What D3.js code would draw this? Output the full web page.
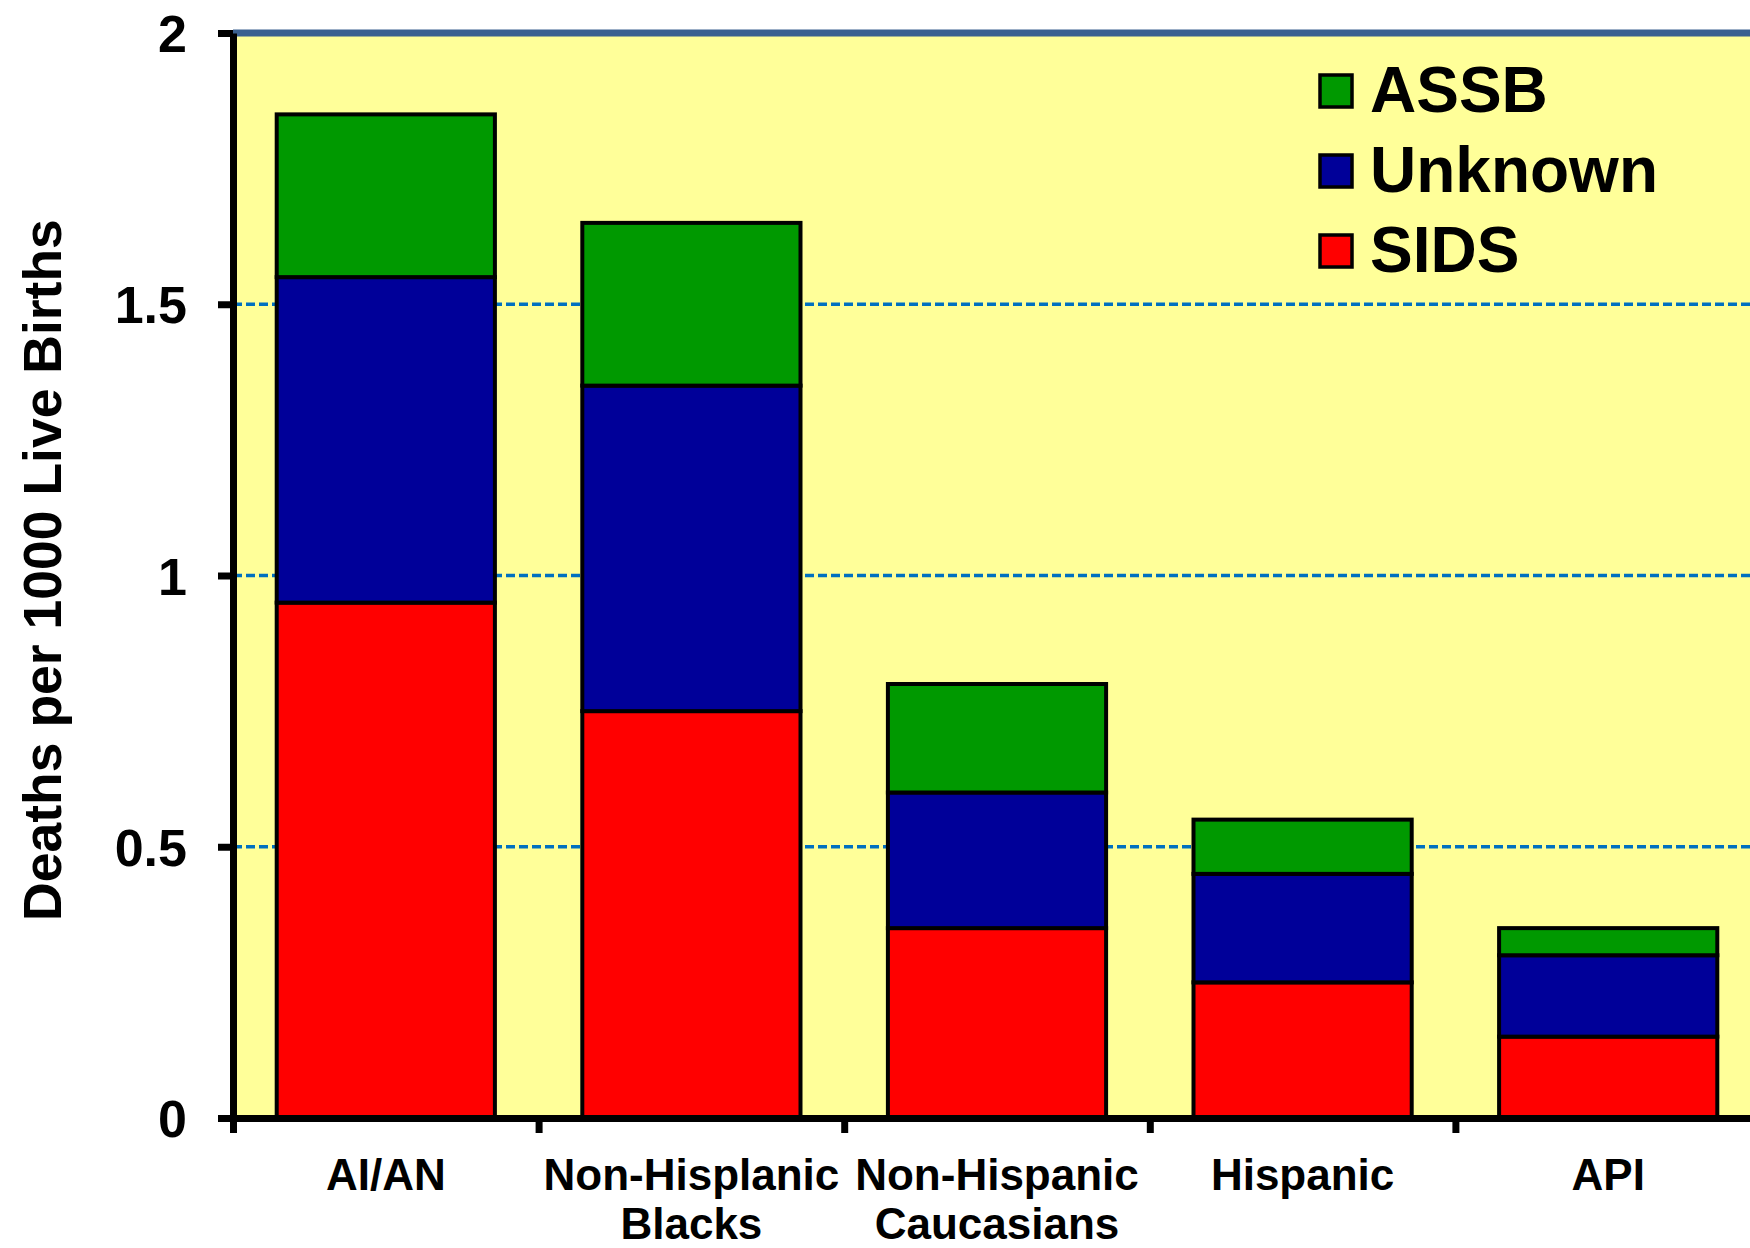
<!DOCTYPE html>
<html>
<head>
<meta charset="utf-8">
<script src="https://cdn.jsdelivr.net/npm/d3@7"></script>
<style>
  body { margin: 0; background: #fff; }
  svg { display: block; font-family: "Liberation Sans", Arial, sans-serif; font-weight: bold; }
</style>
</head>
<body>
<svg id="chart" width="1750" height="1248"></svg>
<script>
// Data
const categories = ['AI/AN', 'Non-Hisplanic Blacks', 'Non-Hispanic Caucasians', 'Hispanic', 'API'];
const labelLines = [['AI/AN'], ['Non-Hisplanic', 'Blacks'], ['Non-Hispanic', 'Caucasians'], ['Hispanic'], ['API']];
const sids = [0.95, 0.75, 0.35, 0.25, 0.15];
const unknown = [0.6, 0.6, 0.25, 0.2, 0.15];
const assb = [0.3, 0.3, 0.2, 0.1, 0.05];
const seriesNames = ['SIDS', 'Unknown', 'ASSB'];
const yTicks = [0, 0.5, 1, 1.5, 2];

const colors = { SIDS: '#ff0000', Unknown: '#000099', ASSB: '#009900' };

// Plot box
const plotLeft = 233, plotRight = 1761, plotTop = 33, plotBottom = 1118;

const svg = d3.select('#chart');

const rows = categories.map((c, i) => ({ cat: c, SIDS: sids[i], Unknown: unknown[i], ASSB: assb[i] }));
const stacked = d3.stack().keys(seriesNames)(rows);

const x = d3.scaleBand()
    .domain(categories)
    .range([plotLeft, plotRight])
    .paddingInner(0.286)
    .paddingOuter(0.143);

const y = d3.scaleLinear()
    .domain([0, 2])
    .range([plotBottom, plotTop]);

// Plot background
svg.append('rect')
    .attr('x', plotLeft)
    .attr('y', plotTop)
    .attr('width', plotRight - plotLeft)
    .attr('height', plotBottom - plotTop)
    .attr('fill', '#ffff99');

// Dashed gridlines
svg.append('g')
    .selectAll('line')
    .data(yTicks.filter(d => d > 0 && d < 2))
    .enter().append('line')
    .attr('x1', plotLeft)
    .attr('x2', plotRight)
    .attr('y1', d => y(d))
    .attr('y2', d => y(d))
    .attr('stroke', '#0070c0')
    .attr('stroke-width', 3.5)
    .attr('stroke-dasharray', '9,4');

// Top border of plot area
svg.append('line')
    .attr('x1', plotLeft)
    .attr('x2', plotRight)
    .attr('y1', y(2))
    .attr('y2', y(2))
    .attr('stroke', '#3b6190')
    .attr('stroke-width', 7);

// Stacked bars
svg.append('g')
  .selectAll('g')
  .data(stacked)
  .enter().append('g')
    .attr('fill', d => colors[d.key])
  .selectAll('rect')
  .data(d => d)
  .enter().append('rect')
    .attr('x', d => x(d.data.cat))
    .attr('y', d => y(d[1]))
    .attr('width', x.bandwidth())
    .attr('height', d => y(d[0]) - y(d[1]))
    .attr('stroke', '#000')
    .attr('stroke-width', 4);

// Y axis
const yAxis = svg.append('g')
    .attr('transform', `translate(${plotLeft},0)`)
    .call(d3.axisLeft(y).tickValues(yTicks).tickSize(15).tickSizeOuter(0).tickPadding(31)
      .tickFormat(d => d3.format('')(d)));

yAxis.select('.domain')
    .attr('stroke', '#000')
    .attr('stroke-width', 7);
yAxis.selectAll('.tick line')
    .attr('stroke-width', 7);
yAxis.selectAll('text')
    .style('font-size', '52px')
    .style('font-weight', 'bold')
    .style('font-family', '"Liberation Sans", Arial, sans-serif')
    .attr('dy', '0.36em')
    .attr('fill', '#000');

// X axis: ticks on category boundaries
const xb = d3.scaleLinear().domain([0, categories.length]).range([plotLeft, plotRight]);
const xAxis = svg.append('g')
    .attr('transform', `translate(0,${plotBottom})`)
    .call(d3.axisBottom(xb).ticks(categories.length).tickSize(15).tickSizeOuter(0).tickFormat(''));

xAxis.select('.domain')
    .attr('stroke', '#000')
    .attr('stroke-width', 7);
xAxis.selectAll('.tick line')
    .attr('stroke-width', 7);

// Category labels
svg.append('g')
    .selectAll('text')
    .data(categories)
    .enter().append('text')
    .attr('x', d => x(d) + x.bandwidth() / 2)
    .attr('y', 1190)
    .attr('text-anchor', 'middle')
    .style('font-size', '44px')
    .each(function(d, i) {
      d3.select(this).selectAll('tspan')
        .data(labelLines[i])
        .enter().append('tspan')
        .attr('x', x(d) + x.bandwidth() / 2)
        .attr('dy', (t, j) => j === 0 ? 0 : 49)
        .text(t => t);
    });

// Y axis title
svg.append('text')
    .attr('transform', 'translate(61,570) rotate(-90)')
    .attr('text-anchor', 'middle')
    .style('font-size', '53.5px')
    .text('Deaths per 1000 Live Births');

// Legend
const legendKeys = ['ASSB', 'Unknown', 'SIDS'];
const legend = svg.append('g')
    .selectAll('g')
    .data(legendKeys)
    .enter().append('g')
    .attr('transform', (d, i) => `translate(1320,${75 + i * 80})`);

legend.append('rect')
    .attr('width', 32)
    .attr('height', 32)
    .attr('fill', d => colors[d])
    .attr('stroke', '#000')
    .attr('stroke-width', 3.5);

legend.append('text')
    .attr('x', 50)
    .attr('y', 37)
    .style('font-size', '64px')
    .text(d => d);
</script>
</body>
</html>
